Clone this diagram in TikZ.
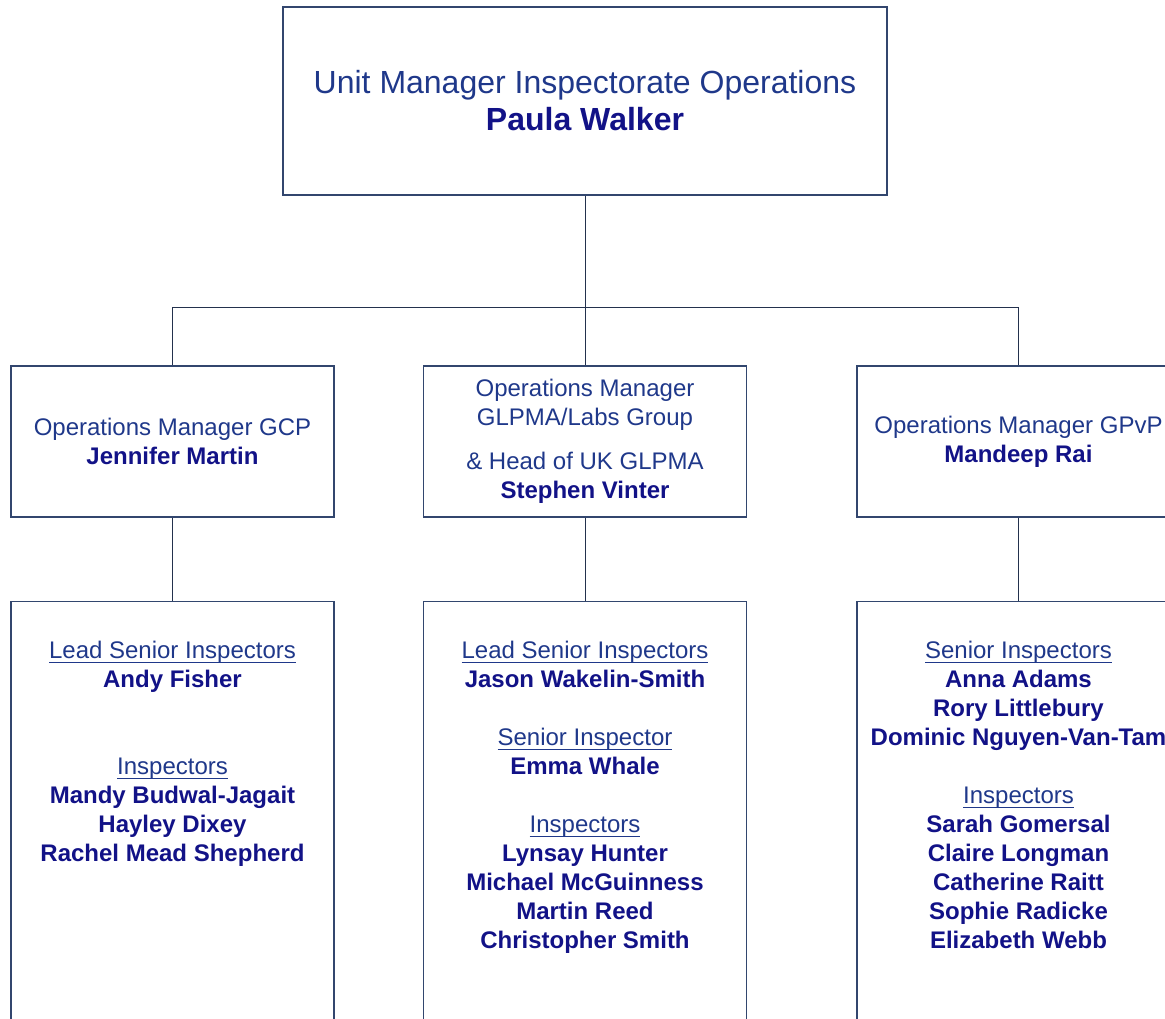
\documentclass[tikz,border=0pt]{standalone}
\usepackage{fontspec}
\setmainfont{Liberation Sans}
\usetikzlibrary{positioning}
\definecolor{roleblue}{RGB}{31,56,138}
\definecolor{namenavy}{RGB}{18,18,135}
\definecolor{boxline}{RGB}{50,70,110}
\newcommand{\who}[1]{\textbf{\color{namenavy}#1}}
\newcommand{\grp}[1]{\setbox0\hbox{#1}\rlap{\rule[-3.3pt]{\wd0}{0.6pt}}\box0}
\tikzset{
 headbox/.style={draw=boxline,line width=0.9pt,minimum width=453pt,minimum height=141pt,
  align=center,text=roleblue,font=\fontsize{24}{27.75}\selectfont},
 mgrbox/.style={draw=boxline,line width=0.9pt,minimum width=242.25pt,minimum height=113.25pt,
  align=center,text=roleblue,font=\fontsize{18}{21.75}\selectfont},
 staffbox/.style={draw=boxline,line width=0.9pt,minimum width=242.25pt,minimum height=325pt,anchor=north},
 stafftext/.style={anchor=north,align=center,inner sep=0pt,text=roleblue,
  font=\fontsize{18}{21.75}\selectfont},
 link/.style={draw=boxline!70!black,line width=0.75pt}
}
\begin{document}
\begin{tikzpicture}[x=0.75pt,y=-0.75pt]
 \useasboundingbox (0,0) rectangle (1165,1019);
 \clip (0,0) rectangle (1165,1019);
 % head of unit
 \node[headbox] (unit) at (585,101) {Unit Manager Inspectorate Operations\\ \who{Paula Walker}};
 % managers
 \node[mgrbox] (gcp) at (172.5,441.5) {Operations Manager GCP\\ \who{Jennifer Martin}};
 \node[mgrbox] (glp) at (585,441.5) {Operations Manager\\GLPMA/Labs Group\\[11pt]
  \& Head of UK GLPMA\\ \who{Stephen Vinter}};
 \node[mgrbox] (gpvp) at (1018.5,441.5) {Operations Manager GPvP\\ \who{Mandeep Rai}};
 % teams
 \node[staffbox] (gcpteam) at (172.5,601) {};
 \node[staffbox] (glpteam) at (585,601) {};
 \node[staffbox] (gpvpteam) at (1018.5,601) {};
 \node[stafftext] (gcplist) at ([yshift=-29.6pt]gcpteam.north) {\grp{Lead Senior Inspectors}\\
  \who{Andy Fisher}\\[43.5pt]
  \grp{Inspectors}\\ \who{Mandy Budwal-Jagait}\\ \who{Hayley Dixey}\\ \who{Rachel Mead Shepherd}};
 \node[stafftext] (glplist) at ([yshift=-29.6pt]glpteam.north) {\grp{Lead Senior Inspectors}\\
  \who{Jason Wakelin-Smith}\\[21.75pt]
  \grp{Senior Inspector}\\ \who{Emma Whale}\\[21.75pt]
  \grp{Inspectors}\\ \who{Lynsay Hunter}\\ \who{Michael McGuinness}\\ \who{Martin Reed}\\
  \who{Christopher Smith}};
 \node[stafftext] (gpvplist) at ([yshift=-29.6pt]gpvpteam.north) {\grp{Senior Inspectors}\\
  \who{Anna Adams}\\ \who{Rory Littlebury}\\ \who{Dominic Nguyen-Van-Tam}\\[21.75pt]
  \grp{Inspectors}\\ \who{Sarah Gomersal}\\ \who{Claire Longman}\\ \who{Catherine Raitt}\\
  \who{Sophie Radicke}\\ \who{Elizabeth Webb}};
 % connectors
 \coordinate (split) at ([yshift=-84pt]unit.south);
 \draw[link] (unit.south) -- (split);
 \draw[link] (split) -| (gcp.north);
 \draw[link] (split) -- (glp.north);
 \draw[link] (split) -| (gpvp.north);
 \draw[link] (gcp.south) -- (gcpteam.north);
 \draw[link] (glp.south) -- (glpteam.north);
 \draw[link] (gpvp.south) -- (gpvpteam.north);
\end{tikzpicture}
\end{document}
